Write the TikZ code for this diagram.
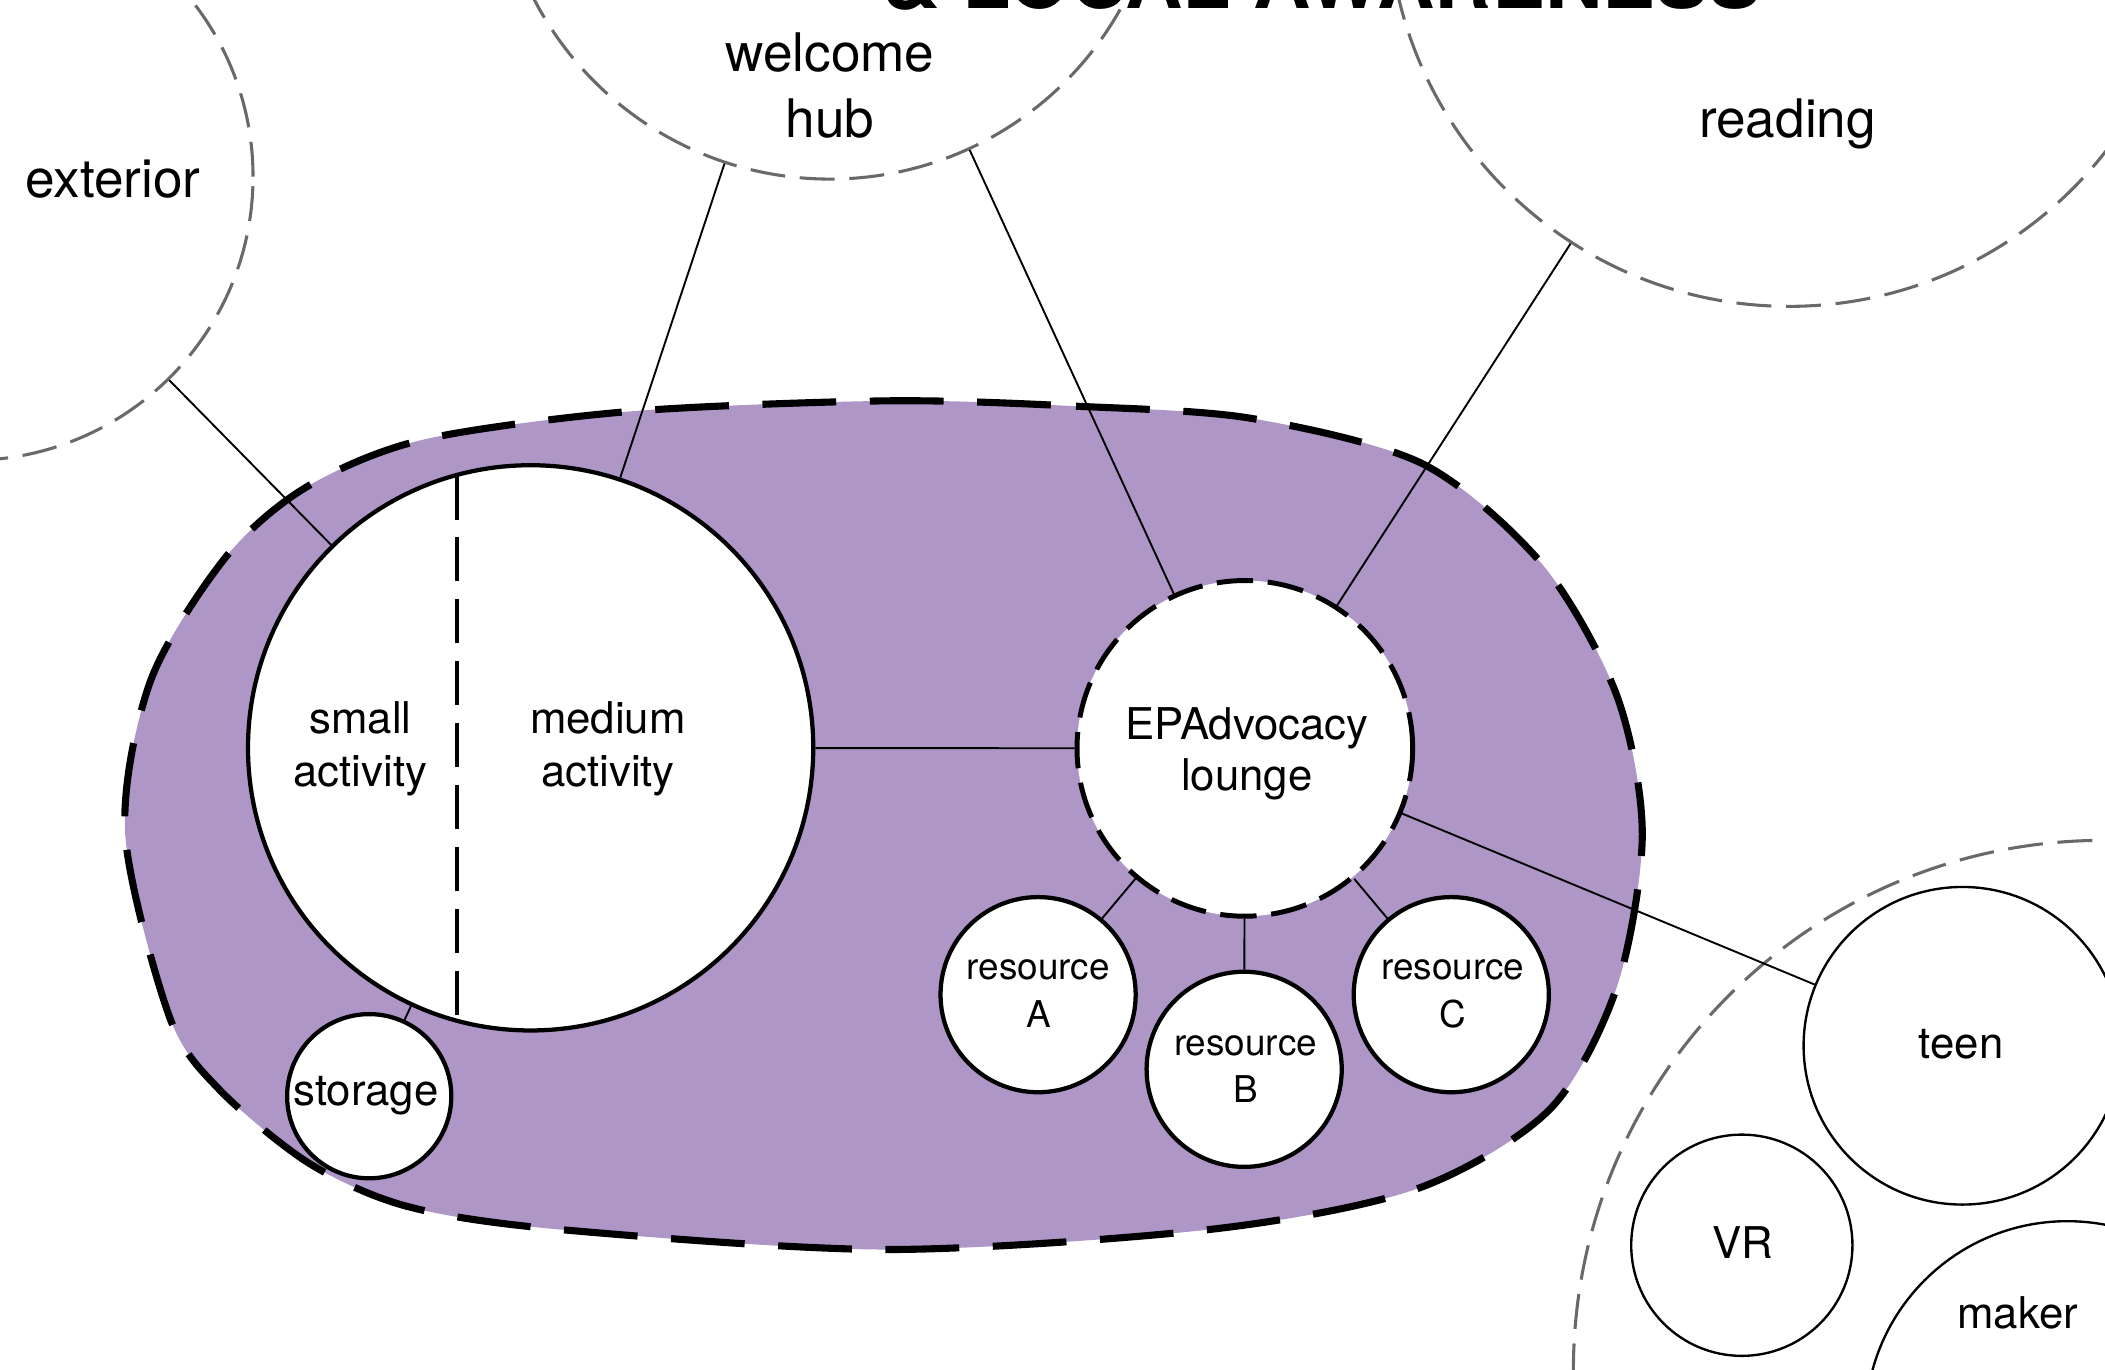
\documentclass[tikz,border=0pt]{standalone}
\usepackage{fontspec}
\setmainfont{TeX Gyre Heros}
\usetikzlibrary{calc}
\definecolor{blobpurple}{RGB}{174,150,199}
\definecolor{ghostgray}{RGB}{105,105,105}
\newcommand{\twolines}[2]{\begin{tabular}[t]{@{}c@{}}#1\\#2\end{tabular}}
\begin{document}
\begin{tikzpicture}[x=0.01cm,y=-0.01cm,
  zone/.style={circle, draw=ghostgray, line width=0.65pt, dash pattern=on 7.4pt off 3.1pt, inner sep=0pt},
  room/.style={circle, draw=black, line width=0.9pt, fill=white, inner sep=0pt},
  dashedroom/.style={circle, draw=black, line width=1.05pt, dash pattern=on 7.7pt off 3.1pt, fill=white, inner sep=0pt},
  thinroom/.style={circle, draw=black, line width=0.5pt, fill=white, inner sep=0pt},
  link/.style={draw=black, line width=0.4pt},
  outerlabel/.style={anchor=base, inner sep=0pt, font=\fontsize{11.24pt}{13.9pt}\selectfont},
  innerlabel/.style={anchor=base, inner sep=0pt, font=\fontsize{9.25pt}{11.4pt}\selectfont},
  loungelabel/.style={anchor=base, inner sep=0pt, font=\fontsize{9.25pt}{10.9pt}\selectfont},
  reslabel/.style={anchor=base, inner sep=0pt, font=\fontsize{7.8pt}{10.1pt}\selectfont},
  blobline/.style={line width=1.5pt, dash pattern=on 15.6pt off 7.1pt, fill=blobpurple},
  divider/.style={line width=0.9pt, dash pattern=on 9.4pt off 3.7pt}
]
\useasboundingbox (0,0) rectangle (1565,1018.5);
\clip (0,0) rectangle (1565,1018.5);

% title (cut off at the top)
\node[anchor=base, inner sep=0pt, font=\fontsize{16.8pt}{20pt}\selectfont\bfseries] (title) at (983,6) {\& LOCAL AWARENESS};

% outer zones
\node[zone, minimum size=4.216cm] (exterior) at (-22.8,131.4) {};
\node[zone, minimum size=4.95cm] (welcome) at (617,-114.5) {};
\node[zone, minimum size=5.96cm] (reading) at (1330,-70.4) {};
\node[zone, minimum size=7.88cm] (teengroup) at (1564,1019) {};

\node[outerlabel] (exteriorlabel) at (84,146.5) {exterior};
\node[outerlabel] (welcomelabel) at (617,53.4) {\twolines{welcome}{hub}};
\node[outerlabel] (readinglabel) at (1329,102) {reading};

% purple blob
\draw[blobline] plot[smooth cycle] coordinates {
 (660,298) (800,302) (930,311) (1058,345) (1147,420) (1202,517) (1221,620)
 (1202,734) (1152,825) (1053,884) (900,914) (659,929) (415,914) (303,897)
 (230,865) (163,810) (126,756) (93,619) (112,506) (168,414) (228,362)
 (314,327) (467,306)};

% rooms
\node[room, minimum size=4.2cm] (big) at (394.5,556) {};
\node[dashedroom, minimum size=2.494cm] (lounge) at (925.5,556.4) {};
\node[room, minimum size=1.45cm] (resA) at (771.8,739.5) {};
\node[room, minimum size=1.45cm] (resB) at (925,795) {};
\node[room, minimum size=1.45cm] (resC) at (1079,739.5) {};
\node[room, minimum size=1.22cm] (storage) at (274.5,815) {};
\node[thinroom, minimum size=2.36cm] (teen) at (1459,777.5) {};
\node[thinroom, minimum size=1.644cm] (vr) at (1295,925.8) {};
\node[thinroom, minimum size=3.0cm] (maker) at (1537,1058) {};

% divider inside the big room
\coordinate (divtop) at ($(big.center)+(-54.5,-202.8)$);
\coordinate (divbot) at ($(big.center)+(-54.5,202.8)$);
\draw[divider] (divtop) -- (divbot);

% connectors
\draw[link] (exterior) -- (big);
\draw[link] (welcome) -- (big);
\draw[link] (welcome) -- (lounge);
\draw[link] (reading) -- (lounge);
\draw[link] (big) -- (lounge);
\draw[link] (big) -- (storage);
\draw[link] (lounge) -- (resA);
\draw[link] (lounge) -- (resB);
\draw[link] (lounge) -- (resC);
\draw[link] (lounge) -- (teen);

% labels
\node[innerlabel] (smalllabel) at (268,545) {\twolines{small}{activity}};
\node[innerlabel] (mediumlabel) at (452,545) {\twolines{medium}{activity}};
\node[loungelabel] (loungelabel) at (927,549.7) {\twolines{EPAdvocacy}{lounge}};
\node[reslabel] (resAlabel) at (772,728.6) {\twolines{resource}{A}};
\node[reslabel] (resBlabel) at (926,784.4) {\twolines{resource}{B}};
\node[reslabel] (resClabel) at (1080,728.6) {\twolines{resource}{C}};
\node[innerlabel] (storagelabel) at (272,821.6) {storage};
\node[innerlabel] (teenlabel) at (1458,787) {teen};
\node[innerlabel] (vrlabel) at (1296,935.4) {VR};
\node[innerlabel] (makerlabel) at (1500,988) {maker};
\end{tikzpicture}
\end{document}
